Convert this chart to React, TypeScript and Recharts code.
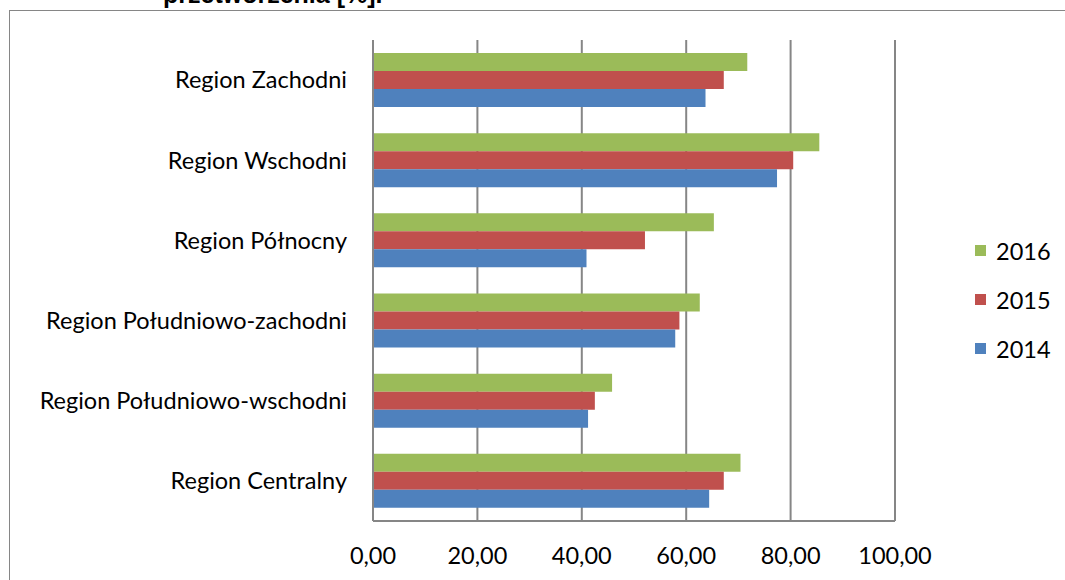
import { BarChart, Bar, XAxis, YAxis, CartesianGrid, Legend } from "recharts";

const regions = [
  "Region Zachodni",
  "Region Wschodni",
  "Region Północny",
  "Region Południowo-zachodni",
  "Region Południowo-wschodni",
  "Region Centralny",
];
const v2016 = [71.7, 85.5, 65.3, 62.6, 45.8, 70.4];
const v2015 = [67.2, 80.5, 52.1, 58.7, 42.5, 67.2];
const v2014 = [63.7, 77.4, 40.9, 57.9, 41.2, 64.4];
const xTicks = [0, 20, 40, 60, 80, 100];

const series = [
  { key: "2016", color: "#9BBB59" },
  { key: "2015", color: "#C0504D" },
  { key: "2014", color: "#4F81BD" },
];

const data = regions.map((name, i) => ({
  name,
  "2016": v2016[i],
  "2015": v2015[i],
  "2014": v2014[i],
}));

const font = "Lato, 'Open Sans', sans-serif";
const grey = "#868686";

const fmt = (v: number) => v.toFixed(2).replace(".", ",");

function LegendBox() {
  return (
    <div style={{ fontFamily: font, fontSize: 23.5, color: "#000" }}>
      {series.map((s) => (
        <div
          key={s.key}
          style={{ display: "flex", alignItems: "center", height: 49 }}
        >
          <span
            style={{
              width: 11,
              height: 11,
              background: s.color,
              marginRight: 10,
              display: "inline-block",
            }}
          />
          {s.key}
        </div>
      ))}
    </div>
  );
}

export default function App() {
  return (
    <div
      style={{
        position: "absolute",
        left: 0,
        top: 0,
        width: 1065,
        height: 580,
        overflow: "hidden",
        background: "#fff",
      }}
    >
      <div
        style={{
          position: "absolute",
          left: 9,
          top: 10,
          width: 1100,
          height: 620,
          border: `1.5px solid ${grey}`,
        }}
      />
      {/* chart title, mostly scrolled out above the frame */}
      <div
        style={{
          position: "absolute",
          left: 163,
          top: -18,
          fontFamily: "'Liberation Sans', Arial, sans-serif",
          fontWeight: "bold",
          fontSize: 25,
          lineHeight: "25px",
          whiteSpace: "nowrap",
        }}
      >
        przetworzenia [%].
      </div>
      <div style={{ position: "absolute", left: 0, top: 0 }}>
        <BarChart
          width={1065}
          height={580}
          data={data}
          layout="vertical"
          margin={{ top: 40, right: 80, bottom: 0, left: 0 }}
          barCategoryGap={13}
          barGap={0}
        >
          <CartesianGrid
            horizontal={false}
            stroke={grey}
            strokeWidth={2}
          />
          <XAxis
            type="number"
            domain={[0, 100]}
            ticks={xTicks}
            tickFormatter={fmt}
            height={59}
            tickSize={0}
            tickMargin={26}
            axisLine={{ stroke: grey, strokeWidth: 2 }}
            tick={{ fontSize: 23.5, fill: "#000", fontFamily: font }}
          />
          <YAxis
            type="category"
            dataKey="name"
            width={373}
            tickSize={0}
            tickMargin={26}
            axisLine={{ stroke: grey, strokeWidth: 2 }}
            tick={{ fontSize: 23.5, fill: "#000", fontFamily: font }}
          />
          <Legend
            layout="vertical"
            align="right"
            verticalAlign="top"
            wrapperStyle={{ left: 975, top: 226, width: 90 }}
            content={() => <LegendBox />}
          />
          {series.map((s) => (
            <Bar
              key={s.key}
              dataKey={s.key}
              fill={s.color}
              isAnimationActive={false}
            />
          ))}
        </BarChart>
      </div>
    </div>
  );
}
